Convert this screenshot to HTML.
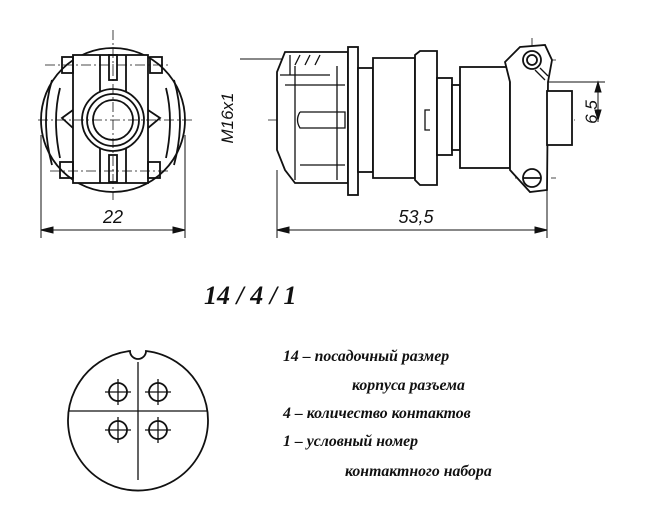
<!DOCTYPE html>
<html><head><meta charset="utf-8"><style>
html,body{margin:0;padding:0;background:#fff;}
svg{display:block}
</style></head><body>
<svg width="655" height="509" viewBox="0 0 655 509" xmlns="http://www.w3.org/2000/svg" font-family="'Liberation Sans', sans-serif">
<g fill="none" stroke="#111" stroke-width="1.8">
<circle cx="113" cy="120" r="72"/>
<path d="M52 80 Q40 120 52 165 M60 88 Q52 120 60 158" />
<path d="M174 80 Q186 120 174 165 M166 88 Q174 120 166 158"/>
<rect x="73" y="55" width="75" height="128" fill="#fff"/>
<line x1="100" y1="55" x2="100" y2="183"/><line x1="126" y1="55" x2="126" y2="183"/>
<rect x="109" y="55" width="8" height="25"/><rect x="109" y="155" width="8" height="27"/>
<rect x="62" y="57" width="11" height="16"/><rect x="150" y="57" width="12" height="16"/>
<rect x="60" y="162" width="13" height="16"/><rect x="148" y="162" width="12" height="16"/>
<circle cx="113" cy="120" r="31" fill="#fff"/><circle cx="113" cy="120" r="26"/><circle cx="113" cy="120" r="20"/>
<path d="M73 110 L62 118 L73 128 M148 110 L160 118 L148 128"/>
</g>
<g stroke="#111" stroke-width="0.8" stroke-dasharray="10 3 2 3" fill="none">
<line x1="113" y1="30" x2="113" y2="200"/><line x1="38" y1="120" x2="192" y2="120"/>
<line x1="45" y1="65" x2="170" y2="65"/><line x1="50" y1="171" x2="170" y2="171"/>
<line x1="268" y1="120" x2="575" y2="120"/>
<line x1="532" y1="38" x2="532" y2="195"/><line x1="515" y1="60" x2="556" y2="60"/><line x1="515" y1="178" x2="556" y2="178"/>
</g>
<g stroke="#111" stroke-width="1" fill="none">
<line x1="41" y1="135" x2="41" y2="238"/><line x1="185" y1="135" x2="185" y2="238"/>
<line x1="41" y1="230" x2="185" y2="230"/>
<path d="M41 230 l12 -3 v6z M185 230 l-12 -3 v6z" fill="#111"/>
<line x1="277" y1="170" x2="277" y2="238"/><line x1="547" y1="190" x2="547" y2="238"/>
<line x1="277" y1="230" x2="547" y2="230"/>
<path d="M277 230 l12 -3 v6z M547 230 l-12 -3 v6z" fill="#111"/>
<line x1="240" y1="59" x2="290" y2="59"/>
<line x1="548" y1="82" x2="605" y2="82"/><line x1="598" y1="82" x2="598" y2="122"/>
<path d="M598 82 l-3 10 h6z M598 120 l-3 -10 h6z" fill="#111"/>
</g>
<g fill="#fff" stroke="#111" stroke-width="1.8">
<path d="M277 72 L285 52 L348 52 L348 183 L295 183 L285 170 L277 150 Z"/>
<rect x="348" y="47" width="10" height="148"/>
<rect x="358" y="68" width="15" height="104"/>
<path d="M373 58 H415 V178 H373 Z"/>
<path d="M415 55 L420 51 H437 V185 H420 L415 180 Z"/>
<rect x="437" y="78" width="15" height="77"/>
<rect x="452" y="85" width="8" height="65"/>
<rect x="460" y="67" width="50" height="101"/>
<path d="M510 82 L505 62 L520 47 L545 45 L552 60 L548 82 L547 190 L530 192 L510 170 Z"/>
<rect x="547" y="91" width="25" height="54"/>
<circle cx="532" cy="60" r="9"/><circle cx="532" cy="60" r="5"/>
<circle cx="532" cy="178" r="9"/>
<line x1="523" y1="178" x2="541" y2="178"/>
</g>
<g stroke="#111" stroke-width="1.3" fill="none">
<line x1="290" y1="55" x2="290" y2="75"/><line x1="300" y1="55" x2="295" y2="65"/><line x1="310" y1="55" x2="305" y2="65"/><line x1="320" y1="55" x2="315" y2="65"/>
<path d="M280 75 H330 M285 85 H345 M295 66 V180 M337 66 V180 M300 112 H345 V128 H300 Q295 120 300 112 M300 165 H345"/>
<path d="M430 110 h-5 v20 h5"/>
<path d="M535 70 L545 80 M540 68 L548 76"/>
</g>
<text x="113" y="223" font-size="18" font-style="italic" text-anchor="middle" fill="#111">22</text>
<text x="416" y="223" font-size="18" font-style="italic" text-anchor="middle" fill="#111">53,5</text>
<text transform="translate(233,118) rotate(-90)" font-size="17" font-style="italic" text-anchor="middle" fill="#111">M16x1</text>
<text transform="translate(597,112) rotate(-90)" font-size="17" font-style="italic" text-anchor="middle" fill="#111">6,5</text>
<text x="204" y="304" font-family="'Liberation Serif', serif" font-size="26" font-weight="bold" font-style="italic" fill="#111">14 / 4 / 1</text>
<g fill="none" stroke="#111" stroke-width="1.8">
<path d="M130 351 A70 70 0 1 0 146 351 A8 8 0 0 1 130 351 Z"/>
<circle cx="118" cy="392" r="9"/><circle cx="158" cy="392" r="9"/>
<circle cx="118" cy="430" r="9"/><circle cx="158" cy="430" r="9"/>
</g>
<g stroke="#111" stroke-width="1.3">
<line x1="68" y1="411" x2="208" y2="411"/><line x1="138" y1="362" x2="138" y2="480"/>
<path d="M105 392 h26 M118 379 v26 M145 392 h26 M158 379 v26 M105 430 h26 M118 417 v26 M145 430 h26 M158 417 v26"/>
</g>
<g font-family="'Liberation Serif', serif" font-size="15.8" font-weight="bold" font-style="italic" fill="#111">
<text x="283" y="361">14 – посадочный размер</text>
<text x="352" y="390">корпуса разъема</text>
<text x="283" y="418">4 – количество контактов</text>
<text x="283" y="446">1 – условный номер</text>
<text x="345" y="476">контактного набора</text>
</g>
</svg>
</body></html>
